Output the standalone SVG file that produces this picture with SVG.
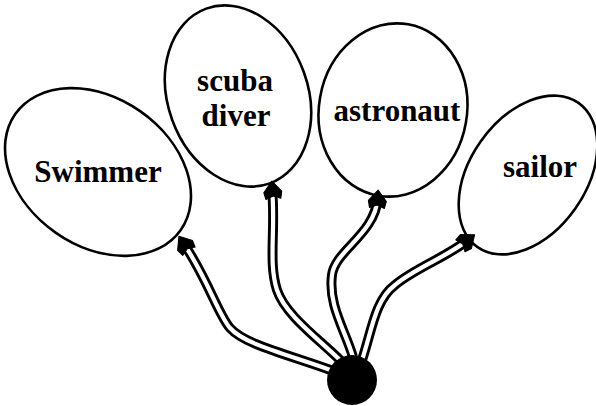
<svg xmlns="http://www.w3.org/2000/svg" width="596" height="406" viewBox="0 0 596 406">
<style>
.node ellipse{fill:#fff;stroke:#000;stroke-width:2.6}
.node text{font-family:"Liberation Serif","Times New Roman",serif;font-weight:bold;font-size:31px;fill:#000;text-anchor:middle}
.outer{fill:none;stroke:#000;stroke-width:10;stroke-linecap:butt}
.inner{fill:none;stroke:#fff;stroke-width:4.2;stroke-linecap:butt}
.ah{fill:#000;stroke:#000;stroke-width:1;stroke-linejoin:round}
</style>
<defs>
<path id="ah" class="ah" d="M2,0 L-9,-9 L-16,-7.5 L-13,0 L-16,7.5 L-9,9 Z"/>
</defs>
<rect width="596" height="406" fill="#fff"/>
<g id="node-swimmer" class="node">
<ellipse cx="98" cy="172" rx="101" ry="74" transform="rotate(35 98 172)"/>
<text x="98" y="182">Swimmer</text>
</g>
<g id="node-scuba" class="node">
<ellipse cx="238" cy="96" rx="93" ry="70" transform="rotate(70 238 96)"/>
<text x="235" y="91">scuba</text>
<text x="236" y="126">diver</text>
</g>
<g id="node-astronaut" class="node">
<ellipse cx="393" cy="110" rx="87" ry="74" transform="rotate(-80 393 110)"/>
<text x="397" y="121">astronaut</text>
</g>
<g id="node-sailor" class="node">
<ellipse cx="528" cy="175" rx="88" ry="58" transform="rotate(-55 528 175)"/>
<text x="540" y="177">sailor</text>
</g>
<g id="connectors">
<path class="outer" d="M333,371 C290,355 245,345 230,328 C218,314 208,280 184,244"/>
<path class="outer" d="M341,361 C320,340 285,315 277,290 C268,262 276,230 272,188"/>
<path class="outer" d="M353,357 C345,330 328,305 332,275 C335,250 375,235 378,197"/>
<path class="outer" d="M362,360 C372,330 375,300 395,285 C415,268 445,258 468,240"/>
<path class="inner" d="M333,371 C290,355 245,345 230,328 C218,314 208,280 184,244"/>
<path class="inner" d="M341,361 C320,340 285,315 277,290 C268,262 276,230 272,188"/>
<path class="inner" d="M353,357 C345,330 328,305 332,275 C335,250 375,235 378,197"/>
<path class="inner" d="M362,360 C372,330 375,300 395,285 C415,268 445,258 468,240"/>
<use href="#ah" transform="translate(180,238) rotate(-124)"/>
<use href="#ah" transform="translate(272,183) rotate(-95)"/>
<use href="#ah" transform="translate(378,192) rotate(-86)"/>
<use href="#ah" transform="translate(473,236) rotate(-38)"/>
</g>
<g id="node-hub">
<circle cx="352" cy="380" r="25" fill="#000"/>
</g>
</svg>
